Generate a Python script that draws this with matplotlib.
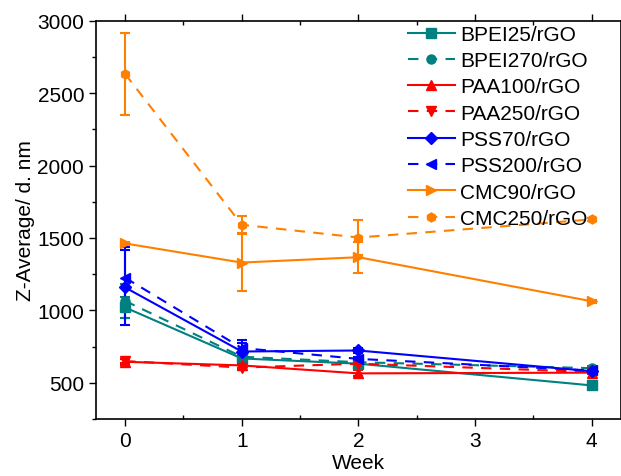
import matplotlib
matplotlib.use("Agg")
import matplotlib.pyplot as plt
import numpy as np

plt.rcParams['font.family'] = ['Liberation Sans', 'DejaVu Sans']

# Dados
semanas = [0, 1, 2, 4]

bpei25 = [1020, 668, 632, 482]
bpei25_err = [70, 30, 20, 10]
bpei270 = [1065, 680, 642, 601]
bpei270_err = [120, 30, 20, 15]
paa100 = [645, 620, 565, 570]
paa100_err = [20, 15, 20, 10]
paa250 = [650, 605, 632, 575]
paa250_err = [15, 15, 15, 10]
pss70 = [1158, 716, 723, 580]
pss70_err = [260, 60, 15, 15]
pss200 = [1225, 740, 665, 585]
pss200_err = [215, 55, 15, 10]
cmc90 = [1462, 1330, 1367, 1063]
cmc90_err = [10, 197, 108, 10]
cmc250 = [2632, 1591, 1503, 1628]
cmc250_err = [285, 58, 118, 10]

series = [
    ("BPEI25/rGO", bpei25, bpei25_err, "#008080", "-", "s"),
    ("BPEI270/rGO", bpei270, bpei270_err, "#008080", "--", "o"),
    ("PAA100/rGO", paa100, paa100_err, "#FF0000", "-", "^"),
    ("PAA250/rGO", paa250, paa250_err, "#FF0000", "--", "v"),
    ("PSS70/rGO", pss70, pss70_err, "#0000FF", "-", "D"),
    ("PSS200/rGO", pss200, pss200_err, "#0000FF", "--", "<"),
    ("CMC90/rGO", cmc90, cmc90_err, "#FF8000", "-", ">"),
    ("CMC250/rGO", cmc250, cmc250_err, "#FF8000", "--", "h"),
]

fig = plt.figure(figsize=(6.21, 4.77), dpi=100)
ax = fig.add_axes([0.1546, 0.1195, 0.845, 0.835])

linhas = []
for nome, y, err, cor, estilo, marcador in series:
    ls = "-" if estilo == "-" else (0, (5, 4))
    cont = ax.errorbar(semanas, y, yerr=err, color=cor, linestyle=ls, linewidth=1.5,
                       marker=marcador, markersize=6.5, capsize=3.5, elinewidth=1.5,
                       capthick=1.5, label=nome)
    linhas.append(cont[0])

ax.set_xticks([0, 1, 2, 3, 4])
ax.set_xticks(np.arange(0, 4.5, 0.5), minor=True)
ax.set_yticks([500, 1000, 1500, 2000, 2500, 3000])
ax.set_yticks(np.arange(250, 3001, 250), minor=True)
ax.set_xlim(-0.25, 4.25)
ax.set_ylim(250, 3000)
ax.tick_params(which="major", direction="out", length=5, width=1, labelsize=15)
ax.tick_params(which="minor", direction="out", length=3, width=1)
ax.tick_params(axis="x", which="minor", direction="in")
ax.tick_params(axis="x", which="both", top=True)
for s in ax.spines.values():
    s.set_linewidth(1.2)

ax.set_xlabel("Week", fontsize=15, labelpad=2.5)
ax.set_ylabel("Z-Average/ d. nm", fontsize=15, labelpad=2)

ax.legend(linhas, [s[0] for s in series], loc="upper right", frameon=False,
          fontsize=15, handlelength=2.25, labelspacing=0.35, handletextpad=0.25,
          borderpad=0.1, borderaxespad=0.1, bbox_to_anchor=(0.945, 1.0))

fig.savefig("out.png", dpi=100)
